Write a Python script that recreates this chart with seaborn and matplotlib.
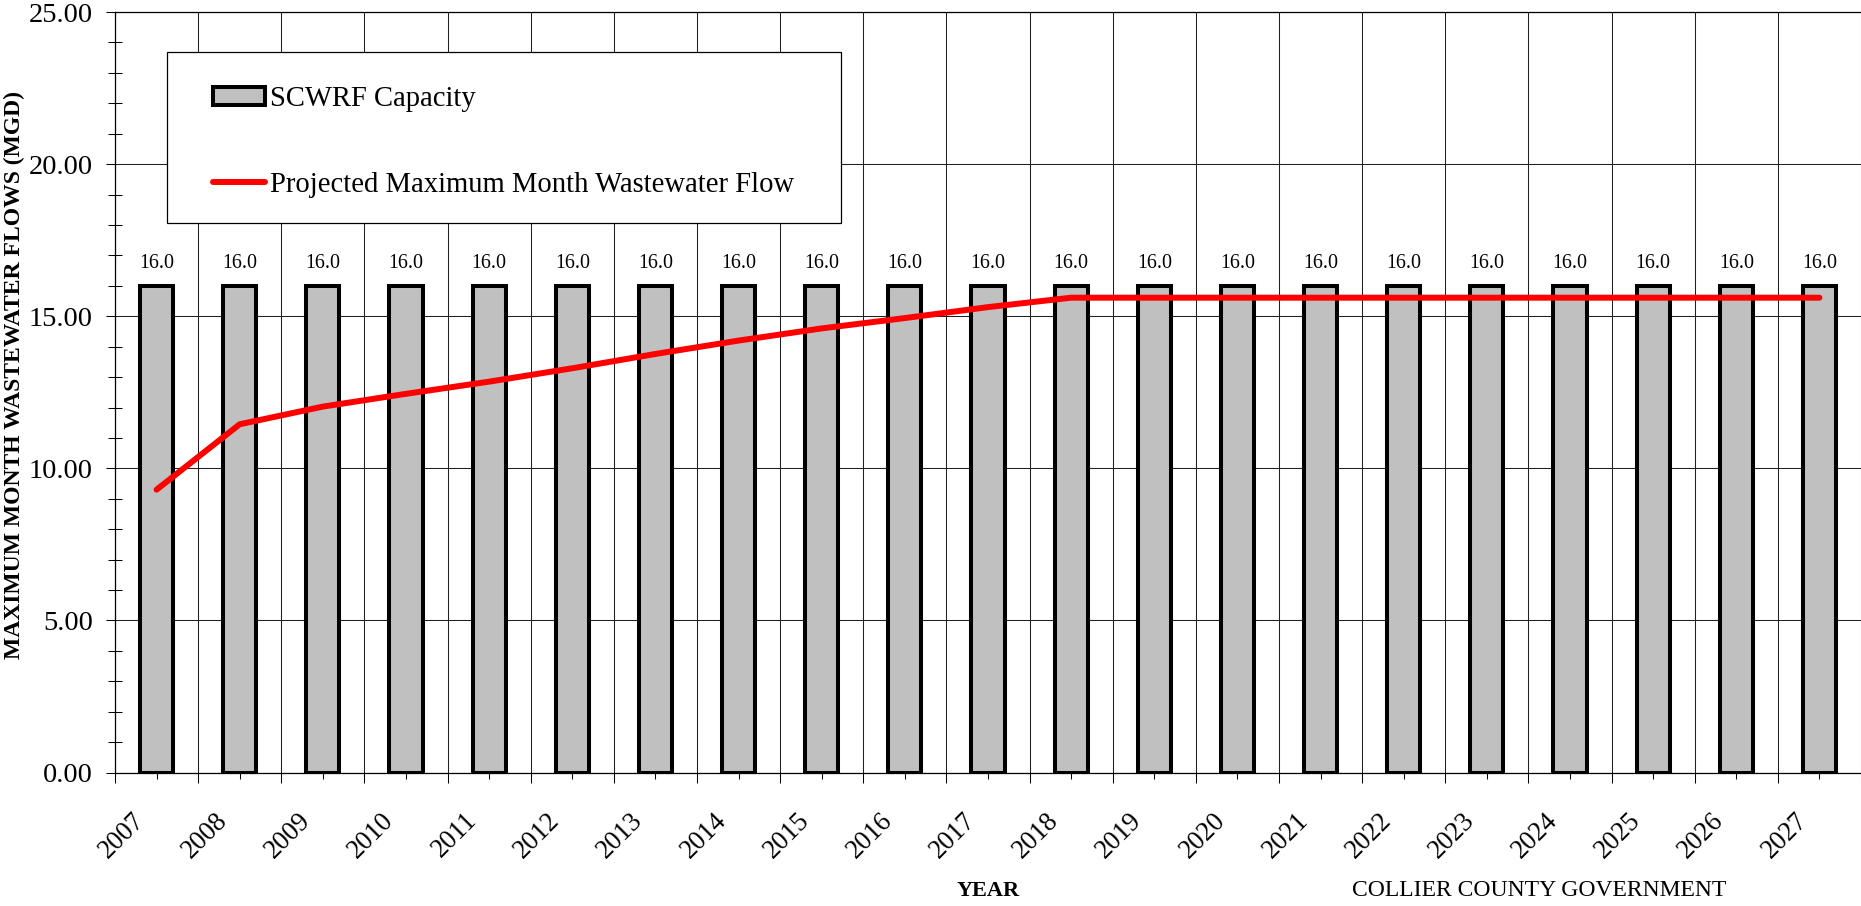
import numpy as np
import matplotlib
matplotlib.use("Agg")
import matplotlib.pyplot as plt
import matplotlib.transforms as mtransforms
from matplotlib.patches import Rectangle
from matplotlib.ticker import MultipleLocator, FormatStrFormatter
import seaborn as sns

# ---- data -------------------------------------------------------------
years = ["2007", "2008", "2009", "2010", "2011", "2012", "2013", "2014",
         "2015", "2016", "2017", "2018", "2019", "2020", "2021", "2022",
         "2023", "2024", "2025", "2026", "2027"]
capacity = [16.0, 16.0, 16.0, 16.0, 16.0, 16.0, 16.0, 16.0, 16.0, 16.0, 16.0,
            16.0, 16.0, 16.0, 16.0, 16.0, 16.0, 16.0, 16.0, 16.0, 16.0]
max_month_flow = [9.30, 11.45, 12.03, 12.45, 12.85, 13.29, 13.76, 14.20,
                  14.60, 14.94, 15.30, 15.61, 15.61, 15.61, 15.61, 15.61,
                  15.61, 15.61, 15.61, 15.61, 15.61]

bar_label = "SCWRF Capacity"
line_label = "Projected Maximum Month Wastewater Flow"

# ---- style ------------------------------------------------------------
sns.set_theme(style="white")
plt.rcParams["font.family"] = ["Liberation Serif", "DejaVu Serif"]
plt.rcParams["text.color"] = "black"
plt.rcParams["axes.labelcolor"] = "black"
plt.rcParams["xtick.color"] = "black"
plt.rcParams["ytick.color"] = "black"

W, H = 1861, 906
fig = plt.figure(figsize=(W / 100, H / 100), dpi=100)
ax_left, ax_top, ax_bottom = 115, 12, 772.6
ax = fig.add_axes([ax_left / W, 1 - ax_bottom / H,
                   (W - ax_left) / W, (ax_bottom - ax_top) / H])

# ---- marks ------------------------------------------------------------
sns.barplot(x=years, y=capacity, color="#C0C0C0", saturation=1,
            edgecolor="black", linewidth=2.9, width=0.4, errorbar=None,
            ax=ax, zorder=2)
positions = np.arange(len(years))
sns.lineplot(x=positions, y=max_month_flow, color="#FF0000", linewidth=4.3,
             solid_capstyle="round", ax=ax, zorder=3)

ax.bar_label(ax.containers[0], fmt="%.1f", padding=9, fontsize=14.4)

# ---- axes -------------------------------------------------------------
ax.set_xlim(-0.5, len(years) - 0.5)
ax.set_ylim(0, 25)
ax.yaxis.set_major_locator(MultipleLocator(5))
ax.yaxis.set_minor_locator(MultipleLocator(1))
ax.yaxis.set_major_formatter(FormatStrFormatter("%.2f"))
ax.set_xticks(positions)
ax.set_xticks(np.arange(-0.5, len(years)), minor=True)

ax.grid(False)
ax.set_axisbelow(True)
ax.grid(axis="y", which="major", color="#202020", linewidth=0.75)
ax.grid(axis="x", which="minor", color="#202020", linewidth=0.75)

for side in ("left", "bottom", "top"):
    ax.spines[side].set_visible(True)
    ax.spines[side].set_color("black")
    ax.spines[side].set_linewidth(0.9)
ax.spines["right"].set_visible(False)

ax.tick_params(axis="x", which="major", direction="out", length=4.3,
               width=0.75, pad=21.2, labelsize=19.2, bottom=True)
ax.tick_params(axis="x", which="minor", direction="out", length=7.2,
               width=0.75, bottom=True)
ax.tick_params(axis="y", which="major", direction="out", length=6.5,
               width=0.75, pad=9.5, labelsize=20.5, left=True)
ax.tick_params(axis="y", which="minor", direction="inout", length=10.4,
               width=0.75, left=True)

# year labels: slanted, anchored at their upper right end
ax.set_xticklabels(years)
shift = mtransforms.ScaledTranslation(-25 / 100, 0, fig.dpi_scale_trans)
for tick in ax.xaxis.get_major_ticks():
    lab = tick.label1
    lab.set_rotation(45)
    lab.set_ha("right")
    lab.set_rotation_mode("anchor")
    lab.set_transform(lab.get_transform() + shift)

ax.set_xlabel("YEAR", fontsize=16, fontweight="bold")
ax.xaxis.set_label_coords(0.5, (ax_bottom - 891) / (ax_bottom - ax_top))
ax.xaxis.label.set_va("center")

ax.set_ylabel("MAXIMUM MONTH WASTEWATER FLOWS (MGD)", fontsize=17,
              fontweight="bold")
ax.yaxis.set_label_coords((14 - ax_left) / (W - ax_left),
                          (ax_bottom - 375) / (ax_bottom - ax_top))
ax.yaxis.label.set_va("center")

fig.text(1539 / W, 1 - 891 / H, "COLLIER COUNTY GOVERNMENT",
         ha="center", va="center", fontsize=17)

# ---- legend -----------------------------------------------------------
frame = Rectangle((167 / W, 1 - 222.7 / H), (841 - 167) / W,
                  (222.7 - 52.3) / H, transform=fig.transFigure,
                  facecolor="white", edgecolor="black", linewidth=0.9,
                  zorder=4, clip_on=False)
ax.add_patch(frame)

bar_handle = ax.containers[0].patches[0]
line_handle = ax.lines[0]
leg = ax.legend([bar_handle, line_handle], [bar_label, line_label],
                loc="upper left", bbox_to_anchor=(213 / W, 1 - 86 / H),
                bbox_transform=fig.transFigure, frameon=False,
                fontsize=20.6, borderpad=0, borderaxespad=0,
                labelspacing=2.09, handlelength=1.8, handleheight=0.63,
                handletextpad=0.2)
leg.set_zorder(5)

fig.savefig("out.png", dpi=100, facecolor="white")
